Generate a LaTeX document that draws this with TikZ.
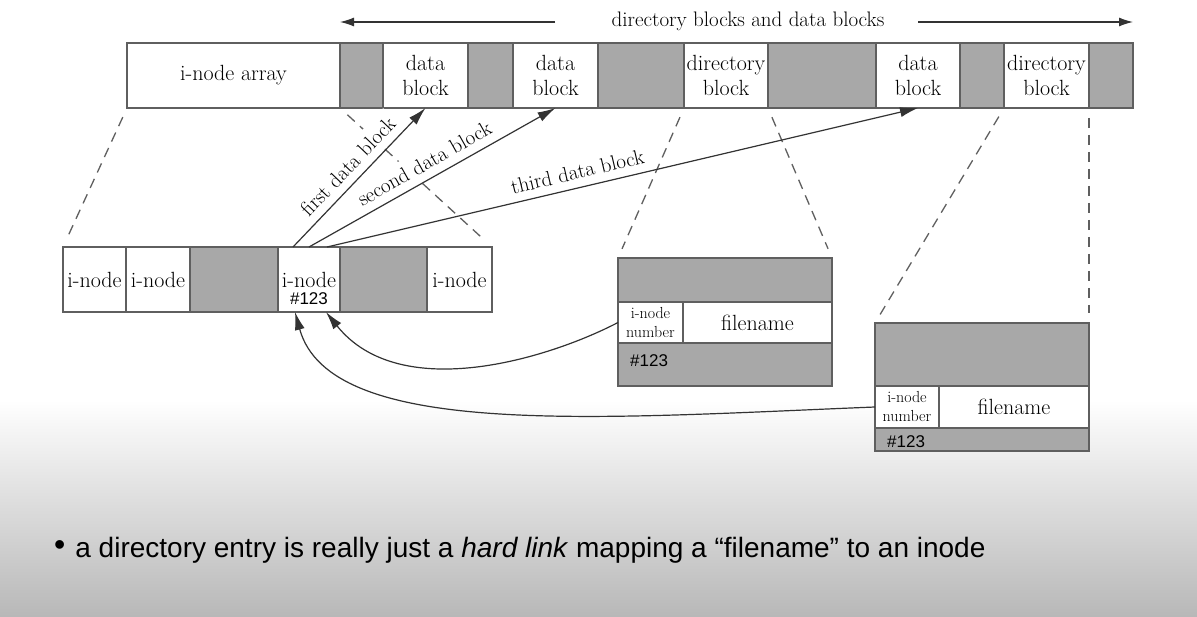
\documentclass[tikz,border=0pt]{standalone}
\usepackage{fontspec}
\newfontfamily\hashfont{Liberation Sans}
\usetikzlibrary{positioning,arrows.meta}
\definecolor{cellgray}{RGB}{168,168,168}
\definecolor{rule}{RGB}{95,95,95}
\newcommand{\blkfont}{\fontsize{22}{25}\selectfont}
\newcommand{\lblfont}{\fontsize{21}{24}\selectfont}
\newcommand{\numfont}{\fontsize{16}{19}\selectfont}
\tikzset{
  blk/.style={draw=rule,line width=1.3pt,outer sep=0pt,inner sep=0pt,minimum height=65pt,align=center,font=\blkfont},
  blkw/.style={blk,fill=white},
  blkg/.style={blk,fill=cellgray},
  dashline/.style={draw=rule,line width=1.3pt,dash pattern=on 10pt off 7pt,shorten <=10pt,shorten >=10pt},
  ptr/.style={draw=black!80,line width=1.2pt,-{Latex[length=18pt,width=10pt]}},
  spanptr/.style={draw=black!80,line width=1.2pt,-{Latex[length=14pt,width=9pt]}},
  lbl/.style={sloped,above=1pt,fill=white,inner xsep=3pt,inner ysep=7pt,font=\lblfont},
  hash/.style={font=\hashfont\fontsize{17}{19}\selectfont,inner sep=0pt}
}

\begin{document}
\begin{tikzpicture}[x=1pt,y=-1pt]
  \useasboundingbox (0,0) rectangle (1197,617);
  \fill[white] (0,0) rectangle (1197,617);
  \shade[top color=white,bottom color=black!28] (0,400) rectangle (1197,617);

  % disk layout
  \node[blkw,minimum width=213pt,anchor=north west] (arr) at (127,43) {i-node array};
  \node[blkg,minimum width=43pt,right=0pt of arr] (g1) {};
  \node[blkw,minimum width=85pt,right=0pt of g1] (d1) {data\\block};
  \node[blkg,minimum width=45pt,right=0pt of d1] (g2) {};
  \node[blkw,minimum width=85pt,right=0pt of g2] (d2) {data\\block};
  \node[blkg,minimum width=86pt,right=0pt of d2] (g3) {};
  \node[blkw,minimum width=84pt,right=0pt of g3] (dir1) {directory\\block};
  \node[blkg,minimum width=108pt,right=0pt of dir1] (g4) {};
  \node[blkw,minimum width=84pt,right=0pt of g4] (d3) {data\\block};
  \node[blkg,minimum width=44pt,right=0pt of d3] (g5) {};
  \node[blkw,minimum width=85pt,right=0pt of g5] (dir2) {directory\\block};
  \node[blkg,minimum width=44pt,right=0pt of dir2] (g6) {};

  \node[font=\lblfont] (span) at (748,21) {directory blocks and data blocks};
  \coordinate (spanls) at (555,22);
  \coordinate (spanrs) at (918,22);
  \coordinate (spanl) at (g1.west |- spanls);
  \coordinate (spanr) at (g6.east |- spanrs);
  \draw[spanptr] (spanls) -- (spanl);
  \draw[spanptr] (spanrs) -- (spanr);

  % i-node array
  \node[blkw,minimum width=63pt,anchor=north west] (in1) at (63,247) {i-node};
  \node[blkw,minimum width=64pt,right=0pt of in1] (in2) {i-node};
  \node[blkg,minimum width=88pt,right=0pt of in2] (ig1) {};
  \node[blkw,minimum width=62pt,right=0pt of ig1] (in3) {i-node};
  \node[blkg,minimum width=87pt,right=0pt of in3] (ig2) {};
  \node[blkw,minimum width=65pt,right=0pt of ig2] (in4) {i-node};
  \node[hash,anchor=base] (h0) at ([yshift=7pt]in3.south) {\#123};

  % directory entries
  \node[blkg,minimum width=214pt,minimum height=44pt,anchor=north west] (e1top) at (618,258) {};
  \node[blkw,minimum width=65pt,minimum height=41pt,font=\numfont,anchor=north west] (e1num) at (e1top.south west) {i-node\\number};
  \node[blkw,minimum width=149pt,minimum height=41pt,right=0pt of e1num] (e1name) {filename};
  \node[blkg,minimum width=214pt,minimum height=43pt,anchor=north west] (e1bot) at (e1num.south west) {};
  \node[hash,anchor=base west] (h1) at ([xshift=12pt,yshift=19pt]e1bot.south west) {\#123};

  \node[blkg,minimum width=214pt,minimum height=63pt,anchor=north west] (e2top) at (875,323) {};
  \node[blkw,minimum width=64pt,minimum height=42pt,font=\numfont,anchor=north west] (e2num) at (e2top.south west) {i-node\\number};
  \node[blkw,minimum width=150pt,minimum height=42pt,right=0pt of e2num] (e2name) {filename};
  \node[blkg,minimum width=214pt,minimum height=23pt,anchor=north west] (e2bot) at (e2num.south west) {};
  \node[hash,anchor=base west] (h2) at ([xshift=12pt,yshift=4pt]e2bot.south west) {\#123};

  % zoom lines
  \draw[dashline] (arr.south west) -- (in1.north west);
  \draw[dashline] (arr.south east) -- (in4.north east);
  \draw[dashline] (dir1.south west) -- (e1top.north west);
  \draw[dashline] (dir1.south east) -- (e1top.north east);
  \draw[dashline] (dir2.south west) -- (e2top.north west);
  \draw[dashline] (dir2.south east) -- (e2top.north east);

  % block pointers
  \draw[ptr] ([xshift=18pt]in3.north) -- node[lbl,pos=0.43] {third data block} (d3.south);
  \draw[ptr] (in3.north) -- node[lbl,pos=0.5] {second data block} (d2.south);
  \draw[ptr] ([xshift=-16pt]in3.north) -- node[lbl,pos=0.5] {first data block} (d1.south);

  % hard links
  \draw[ptr] (e1num.west) .. controls (550,358) and (400,405) .. ([xshift=17pt]in3.south);
  \draw[ptr] (e2num.west) .. controls (600,418) and (330,440) .. ([xshift=-14pt]in3.south);

  \node[anchor=base west,inner sep=0pt,font=\hashfont\fontsize{28}{31}\selectfont] (note) at (54,557)
    {\raisebox{2pt}{\fontsize{32}{32}\selectfont •}\hspace{10pt}a directory entry is really just a \textit{hard link} mapping a “filename” to an inode};
\end{tikzpicture}
\end{document}
